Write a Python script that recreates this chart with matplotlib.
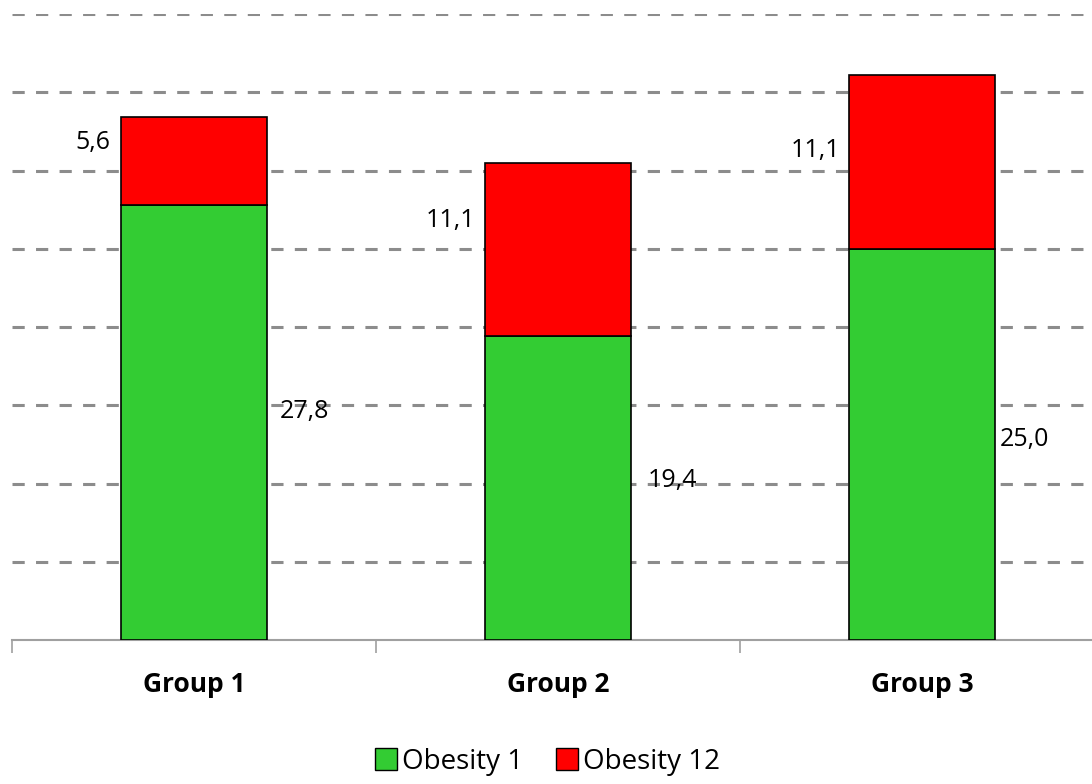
import numpy as np
import matplotlib.pyplot as plt
from matplotlib.lines import Line2D

plt.rcParams['font.family'] = ['Open Sans', 'DejaVu Sans']

groups = ['Group 1', 'Group 2', 'Group 3']
obesity_1 = [27.8, 19.4, 25.0]
obesity_12 = [5.6, 11.1, 11.1]
series_names = ['Obesity 1', 'Obesity 12']

green = '#33cc33'
red = '#ff0000'

# hand-placed value labels (data coords), like dragged labels in a spreadsheet chart
label_pos_1 = [(0.236, 14.6), (1.247, 10.2), (2.214, 12.8)]
label_pos_12 = [(-0.231, 31.8), (0.772, 26.8), (1.775, 31.3)]

def fmt(v):
    return f'{v:.1f}'.replace('.', ',')

fig = plt.figure(figsize=(10.92, 7.84), dpi=100)
ax = fig.add_axes([12/1092, 144/784, 1092/1092, 626/784])

x = np.arange(len(groups))
w = 0.4
ax.bar(x, obesity_1, w, color=green, edgecolor='black', linewidth=1.2, zorder=3)
ax.bar(x, obesity_12, w, bottom=obesity_1, color=red, edgecolor='black', linewidth=1.2, zorder=3)

for v, (lx, ly) in zip(obesity_1, label_pos_1):
    ax.text(lx, ly, fmt(v), ha='left', va='center', fontsize=18, zorder=4)
for v, (lx, ly) in zip(obesity_12, label_pos_12):
    ax.text(lx, ly, fmt(v), ha='right', va='center', fontsize=18, zorder=4)

ax.set_xlim(-0.5, 2.5)
ax.set_ylim(0, 40)
ax.set_yticks(np.arange(5, 41, 5))
ax.yaxis.grid(True, color='#8c8c8c', linewidth=2.2, dashes=(4, 3.7), zorder=0)
ax.tick_params(axis='y', length=0, labelleft=False)

ax.set_xticks(x)
ax.set_xticklabels(groups, fontsize=19, fontweight='bold')
ax.set_xticks([-0.5, 0.5, 1.5, 2.5], minor=True)
ax.tick_params(axis='x', which='major', length=0, pad=22)
ax.tick_params(axis='x', which='minor', length=9, width=1.2, color='#a0a0a0')

for s in ['top', 'right', 'left']:
    ax.spines[s].set_visible(False)
ax.spines['bottom'].set_color('#a0a0a0')
ax.spines['bottom'].set_linewidth(1.5)

handles = [Line2D([], [], marker='s', linestyle='none', markersize=16,
                  markerfacecolor=c, markeredgecolor='black', markeredgewidth=1.0)
           for c in (green, red)]
fig.legend(handles, series_names, loc='center', bbox_to_anchor=(0.5, 22/784),
           ncol=2, frameon=False, fontsize=20, handletextpad=0.07, columnspacing=1.1,
           handlelength=1.0, borderpad=0)

fig.savefig('out.png', dpi=100)
